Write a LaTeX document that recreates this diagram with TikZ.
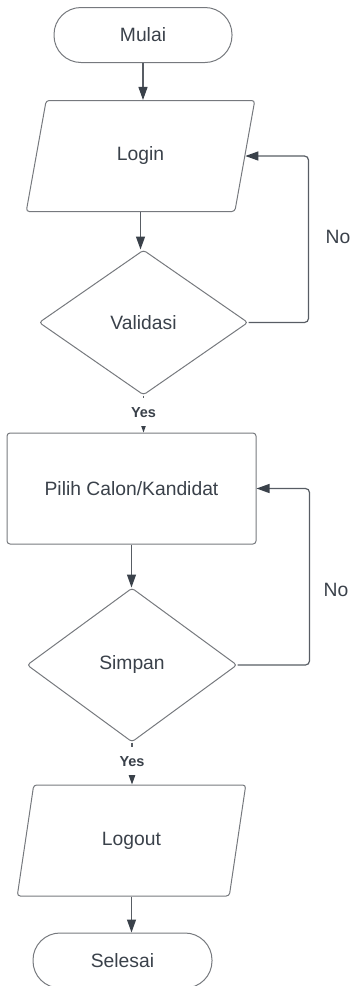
\documentclass[tikz,border=0pt]{standalone}
\usepackage{fontspec}
\setmainfont{Liberation Sans}
\usetikzlibrary{
  arrows.meta,      % Triangle arrow tips
  shapes.geometric, % diamond and trapezium shapes
  positioning       % relative placement
}
\definecolor{shapeline}{RGB}{118,121,126}
\definecolor{flowline}{RGB}{88,93,100}
\definecolor{inkgray}{RGB}{58,65,74}
\tikzset{
  terminal/.style={
    rectangle,
    draw=shapeline,
    line width=1pt,
    rounded corners=27pt,
    minimum width=178pt,
    minimum height=55pt,
    text=inkgray,
    font=\fontsize{19.3}{23}\selectfont
  },
  io box/.style={
    trapezium,
    trapezium left angle=77,
    trapezium right angle=103,
    trapezium stretches=true,
    draw=shapeline,
    line width=1pt,
    rounded corners=3pt,
    minimum width=229pt,
    minimum height=111pt,
    text=inkgray,
    font=\fontsize{19.3}{23}\selectfont
  },
  process/.style={
    rectangle,
    draw=shapeline,
    line width=1pt,
    rounded corners=3pt,
    minimum width=249pt,
    minimum height=111pt,
    text=inkgray,
    font=\fontsize{19.3}{23}\selectfont
  },
  decision/.style={
    diamond,
    draw=shapeline,
    line width=1pt,
    rounded corners=3pt,
    inner sep=0pt,
    text=inkgray,
    font=\fontsize{19.3}{23}\selectfont
  },
  flow/.style={
    -{Triangle[length=13pt,width=9pt,color=inkgray]},
    draw=flowline,
    line width=1.2pt
  },
  yes label/.style={
    fill=white,
    inner sep=1pt,
    minimum height=28pt,
    text=inkgray,
    font=\bfseries\fontsize{14.5}{17}\selectfont
  },
  no label/.style={
    text=inkgray,
    font=\fontsize{19.3}{23}\selectfont
  }
}

\begin{document}
\begin{tikzpicture}[x=1pt, y=-1pt]
  \useasboundingbox (0,0) rectangle (350,986);

  % shapes
  \node[terminal] (mulai) at (143,35) {Mulai};
  \node[io box] (login) at (140.5,156) {Login};
  \node[decision, minimum width=209pt, minimum height=145pt] (validasi) at (143.5,322.5) {Validasi};
  \node[process] (pilih) at (131.5,488.5) {Pilih Calon/Kandidat};
  \node[decision, minimum width=210pt, minimum height=154pt] (simpan) at (132,665) {Simpan};
  \node[io box] (logout) at (131.5,840.5) {Logout};
  \node[terminal, minimum width=179pt] (selesai) at (122.5,960.5) {Selesai};

  % main flow
  \draw[flow] (mulai.south) -- (mulai.south |- login.north);
  \draw[flow] (login.south) -- (login.south |- validasi.north);
  \draw[flow] (validasi.south) -- (validasi.south |- pilih.north)
    node[yes label, pos=0.45] (yes1) {Yes};
  \draw[flow] (pilih.south) -- (pilih.south |- simpan.north);
  \draw[flow] (simpan.south) -- (simpan.south |- logout.north)
    node[yes label, pos=0.45] (yes2) {Yes};
  \draw[flow] (logout.south) -- (logout.south |- selesai.north);

  % back loops
  \draw[flow, rounded corners=4pt] (validasi.east) -- ++(60,0) |- (login.east);
  \draw[flow, rounded corners=4pt] (simpan.east) -- ++(72,0) |- (pilih.east);
  \node[no label] (no1) at (338,237) {No};
  \node[no label] (no2) at (336,590) {No};
\end{tikzpicture}
\end{document}
